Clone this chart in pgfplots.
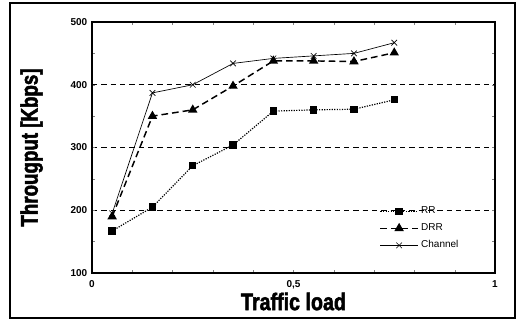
\documentclass[border=0pt]{standalone}
\usepackage{fontspec}
\setmainfont{Liberation Sans}
\newfontfamily\lblfont[FakeStretch=0.82,FakeBold=2]{Liberation Sans Bold}
\newfontfamily\ylblfont[FakeStretch=0.78,FakeBold=2]{Liberation Sans Bold}
\usepackage{pgfplots}
\pgfplotsset{compat=1.18}
\begin{document}
\begin{tikzpicture}[x=1pt,y=1pt]
\path[use as bounding box] (0,0) rectangle (390.75,240.75);
\draw[line width=1.2pt] (7.5,2.25) rectangle (386.25,238.5);
\begin{axis}[
  at={(69pt,36pt)}, anchor=south west,
  scale only axis, width=302.25pt, height=188.25pt,
  xmin=0, xmax=1, ymin=100, ymax=500,
  xtick={0,0.5,1}, xticklabels={0,{0,5},1},
  minor xtick={0.1,0.2,0.3,0.4,0.6,0.7,0.8,0.9},
  ytick={100,200,300,400,500},
  minor ytick={150,250,350,450},
  tick align=inside, major tick length=2pt, minor tick length=2pt,
  axis line style={line width=1pt},
  ymajorgrids, major grid style={black, line width=0.9pt, dash pattern=on 4pt off 3pt},
  /pgf/number format/assume math mode=true,
  ticklabel style={font=\bfseries\fontsize{7.5}{8}\selectfont},
  xticklabel style={yshift=-2pt},
  xlabel={\lblfont\fontsize{18}{19}\selectfont Traffic load},
  ylabel={\ylblfont\fontsize{18}{19}\selectfont Througput [Kbps]},
  xlabel style={yshift=4pt},
  ylabel style={yshift=14pt},
  legend style={draw=none, fill=none, at={(0.71,0.28)}, anchor=north west,
    font=\fontsize{7.5}{9}\selectfont, row sep=2pt, inner sep=1pt},
  legend cell align=left,
  legend image code/.code={\draw[mark repeat=2,mark phase=2] plot coordinates {(0pt,0pt) (14pt,0pt) (28pt,0pt)};},
]
\addplot[black, densely dotted, line width=0.9pt, mark=square*, mark size=2.3pt, mark options={solid}]
  coordinates {(0.05,167) (0.15,205) (0.25,271) (0.35,304) (0.45,358) (0.55,360) (0.65,361) (0.75,376)};
\addplot[black, line width=1.1pt, dash pattern=on 5pt off 3pt, mark=triangle*, mark size=3pt, mark options={solid}]
  coordinates {(0.05,190) (0.15,350) (0.25,360) (0.35,398) (0.45,438) (0.55,438) (0.65,437) (0.75,451)};
\addplot[black, line width=0.5pt, mark=x, mark size=3pt]
  coordinates {(0.05,195) (0.15,387) (0.25,400) (0.35,434) (0.45,442) (0.55,446) (0.65,450) (0.75,467)};
\legend{RR,DRR,Channel}
\end{axis}
\end{tikzpicture}
\end{document}
